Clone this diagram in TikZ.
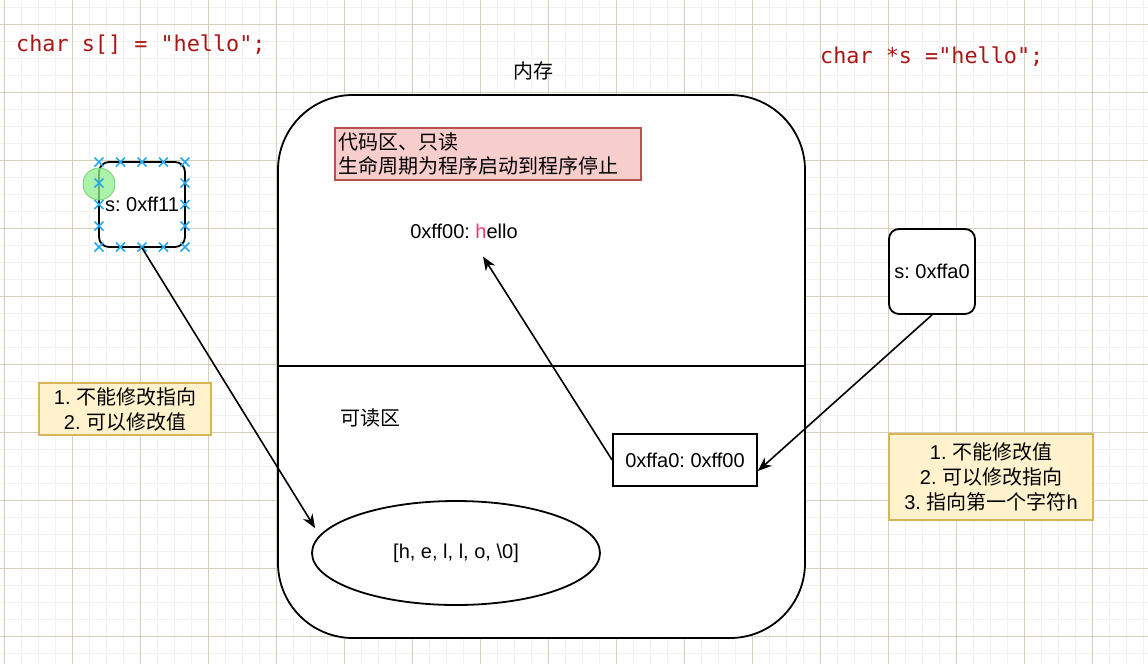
\documentclass[tikz,border=0pt]{standalone}
\usepackage{fontspec}
\setmainfont{Liberation Sans}
\newfontfamily\cjk{Noto Sans CJK SC}
\newfontfamily\codefont{DejaVu Sans Mono}
\usetikzlibrary{arrows.meta,shapes.geometric}
\definecolor{gridminor}{RGB}{243,242,236}
\definecolor{gridmajor}{RGB}{212,208,188}
\definecolor{codered}{RGB}{168,22,22}
\definecolor{redfill}{RGB}{248,206,204}
\definecolor{redline}{RGB}{184,84,80}
\definecolor{yelfill}{RGB}{255,242,204}
\definecolor{yelline}{RGB}{214,182,86}
\definecolor{hpink}{RGB}{255,51,119}
\definecolor{selblue}{RGB}{41,170,240}
\definecolor{selgreen}{RGB}{144,238,144}
\definecolor{selgreenline}{RGB}{110,210,110}
\tikzset{
  txt/.style={font=\frenchspacing\fontsize{20pt}{25pt}\selectfont, inner sep=0pt, align=center},
  codetxt/.style={font=\codefont\fontsize{21.8pt}{26pt}\selectfont, text=codered, inner sep=0pt, anchor=west},
  boxline/.style={draw=black, line width=1.8pt},
  varbox/.style={boxline, fill=white, rounded corners=10pt, minimum width=86pt, minimum height=85pt, txt},
  notebox/.style={draw=yelline, line width=1.5pt, fill=yelfill, txt},
  conn/.style={draw=black, line width=1.6pt, -{Stealth[length=14pt,width=11pt]}},
  selx/.style={draw=selblue, line width=1.6pt}
}
\newcommand{\selmark}[2]{\draw[selx] (#1-4.5,#2-4.5) -- (#1+4.5,#2+4.5) (#1-4.5,#2+4.5) -- (#1+4.5,#2-4.5);}
\begin{document}
\begin{tikzpicture}[x=1pt,y=-1pt]
\useasboundingbox (0,0) rectangle (1148,664);
\fill[white] (0,0) rectangle (1148,664);
% grid
\foreach \x in {4,21,...,1148} \draw[gridminor, line width=1pt] (\x,0) -- (\x,664);
\foreach \y in {7,24,...,664} \draw[gridminor, line width=1pt] (0,\y) -- (1148,\y);
\foreach \x in {4,72,...,1148} \draw[gridmajor, line width=1pt] (\x,0) -- (\x,664);
\foreach \y in {24,92,...,664} \draw[gridmajor, line width=1pt] (0,\y) -- (1148,\y);

% code texts
\node[codetxt] (code1) at (16,45) {char s[] = "hello";};
\node[codetxt] (code2) at (820,57) {char *s ="hello";};

% memory
\node[txt] (neicun) at (533,71) {\cjk 内存};
\node[boxline, fill=white, rounded corners=75pt, minimum width=527pt, minimum height=543pt] (mem) at (541.5,366.5) {};
\draw[boxline] (mem.west |- 0,366) -- (mem.east |- 0,366);

\node[draw=redline, line width=1.5pt, fill=redfill, font=\cjk\fontsize{20pt}{24pt}\selectfont, align=left,
      text width=300pt, inner xsep=3pt, inner ysep=0pt, minimum height=52pt] (code) at (488,154)
      {代码区、只读\\生命周期为程序启动到程序停止};

\node[txt] (hello) at (464,231) {0xff00: \textcolor{hpink}{h}ello};
\node[txt] (kedu) at (370,418) {\cjk 可读区};

\node[boxline, fill=white, minimum width=144pt, minimum height=52pt, txt] (ptr) at (685,460) {0xffa0: 0xff00};
\node[boxline, fill=white, ellipse, minimum width=288pt, minimum height=104pt, txt] (arr) at (456,553) {[h, e, l, l, o, \textbackslash0]};

% variables
\node[varbox] (sbox) at (142,204.5) {s: 0xff11};
\node[varbox] (sbox2) at (932,271.5) {s: 0xffa0};

% selection handles on sbox
\fill[selgreen, fill opacity=0.75] (99,184) circle (16);
\draw[selgreenline, line width=1pt, draw opacity=0.8] (99,184) circle (16);
\foreach \x in {99,120.5,142,163.5,185} {\selmark{\x}{162}\selmark{\x}{247}}
\foreach \y in {183,204.5,226} {\selmark{99}{\y}\selmark{185}{\y}}

% notes
\node[notebox, minimum width=172pt, minimum height=52pt] (note1) at (125,409)
  {1. {\cjk 不能修改指向}\\2. {\cjk 可以修改值}};
\node[notebox, minimum width=204pt, minimum height=86pt] (note2) at (991,477)
  {1. {\cjk 不能修改值}\\2. {\cjk 可以修改指向}\\3. {\cjk 指向第一个字符}h};

% connectors
\draw[conn] (sbox.south) -- ([xshift=-13pt]arr.169);
\draw[conn] (ptr.west) -- ([xshift=19pt,yshift=-18pt]hello.south);
\draw[conn] (sbox2.south) -- ([yshift=-11pt]ptr.east);
\end{tikzpicture}
\end{document}
